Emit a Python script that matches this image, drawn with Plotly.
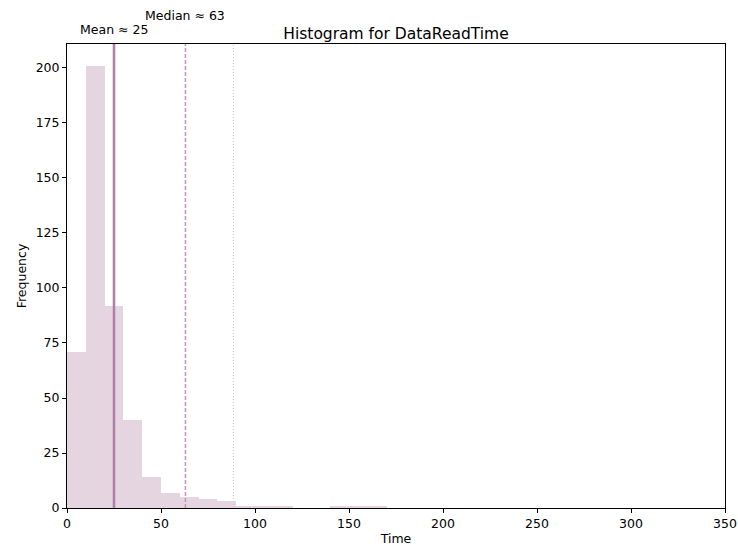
import plotly.graph_objects as go

# histogram bins (width 10) and counts
bin_edges = [0, 10, 20, 30, 40, 50, 60, 70, 80, 90, 100, 110, 120, 130, 140, 150, 160, 170]
counts = [71, 201, 92, 40, 14, 7, 5, 4, 3, 1, 1, 1, 0, 0, 1, 1, 1]
mean_val = 25
median_val = 63
extra_line = 88.5
x_ticks = [0, 50, 100, 150, 200, 250, 300, 350]
y_ticks = [0, 25, 50, 75, 100, 125, 150, 175, 200]

centers = [(a + b) / 2 for a, b in zip(bin_edges[:-1], bin_edges[1:])]
widths = [b - a for a, b in zip(bin_edges[:-1], bin_edges[1:])]

FONT = "DejaVu Sans"

fig = go.Figure()
fig.add_trace(go.Bar(
    x=centers, y=counts, width=widths,
    marker=dict(color="rgba(170, 125, 160, 0.32)", line=dict(width=0)),
    showlegend=False, hoverinfo="x+y",
))

fig.add_shape(type="line", xref="x", yref="paper", x0=mean_val, x1=mean_val, y0=0, y1=1,
              line=dict(color="#b07ea6", width=2.5))
fig.add_shape(type="line", xref="x", yref="paper", x0=median_val, x1=median_val, y0=0, y1=1,
              line=dict(color="#c990bd", width=1.5, dash="4px,2px"))
fig.add_shape(type="line", xref="x", yref="paper", x0=extra_line, x1=extra_line, y0=0, y1=1,
              line=dict(color="#ddbcd6", width=1, dash="1px,2px"))

fig.add_annotation(x=mean_val, y=1, xref="x", yref="paper", yanchor="bottom", yshift=5,
                   text=f"Mean ≈ {mean_val}", showarrow=False,
                   font=dict(family=FONT, size=12.5, color="black"))
fig.add_annotation(x=median_val, y=1, xref="x", yref="paper", yanchor="bottom", yshift=19,
                   text=f"Median ≈ {median_val}", showarrow=False,
                   font=dict(family=FONT, size=12.5, color="black"))

fig.update_layout(
    title=dict(text="Histogram for DataReadTime", x=396 / 738, xanchor="center",
               y=1, yref="paper", yanchor="bottom", pad=dict(b=5),
               font=dict(family=FONT, size=15.5, color="black"), automargin=False),
    width=738, height=549,
    margin=dict(l=67, r=13, t=44, b=41, autoexpand=False),
    plot_bgcolor="white", paper_bgcolor="white",
    bargap=0,
    font=dict(family=FONT, size=12, color="black"),
)
fig.update_xaxes(
    range=[0, 350], tickvals=x_ticks, ticks="outside", ticklen=4, tickcolor="black",
    showline=True, linecolor="black", linewidth=1, mirror=True, showgrid=False, zeroline=False,
    title=dict(text="Time", font=dict(family=FONT, size=12.5), standoff=4),
    tickfont=dict(family=FONT, size=12.5), automargin=False,
)
fig.update_yaxes(
    range=[0, 210.9], tickvals=y_ticks, ticks="outside", ticklen=4, tickcolor="black",
    showline=True, linecolor="black", linewidth=1, mirror=True, showgrid=False, zeroline=False,
    title=dict(text="Frequency", font=dict(family=FONT, size=12.5), standoff=6),
    tickfont=dict(family=FONT, size=12.5), automargin=False,
)

# the page body has a default margin; drop it so the figure sits at the window's corner
fig.write_html("out.html", config={"displayModeBar": False},
               post_script="document.body.style.margin='0';")
